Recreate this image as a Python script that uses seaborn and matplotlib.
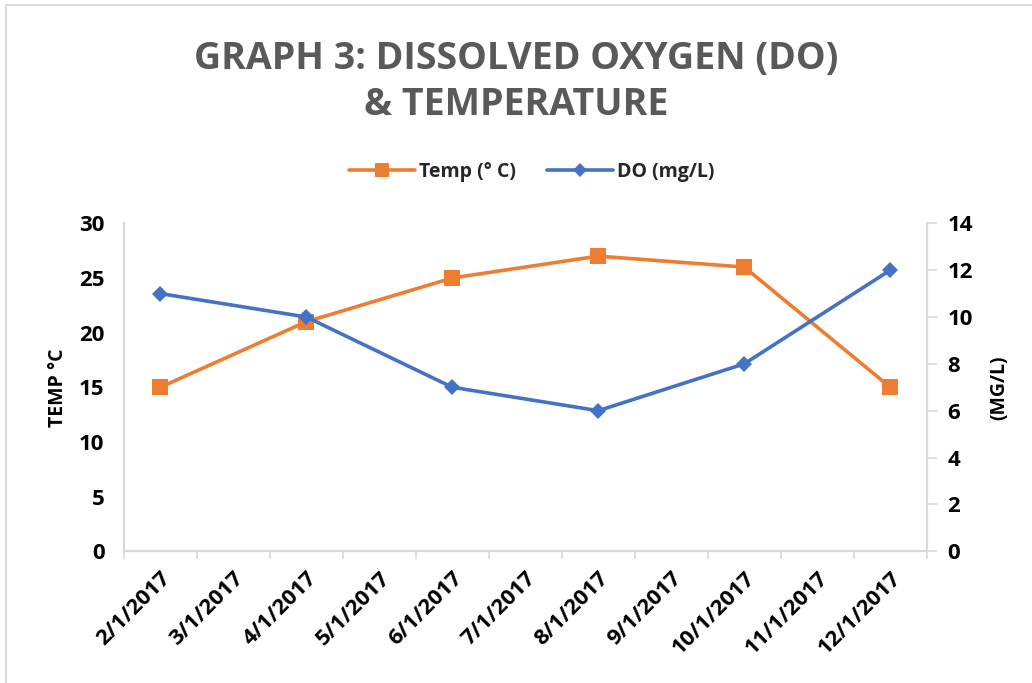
import matplotlib
matplotlib.use("Agg")
import matplotlib.pyplot as plt
from matplotlib.lines import Line2D
import pandas as pd
import seaborn as sns

# Dados
months = ["2/1/2017", "3/1/2017", "4/1/2017", "5/1/2017", "6/1/2017", "7/1/2017",
          "8/1/2017", "9/1/2017", "10/1/2017", "11/1/2017", "12/1/2017"]
sample_dates = ["2/1/2017", "4/1/2017", "6/1/2017", "8/1/2017", "10/1/2017", "12/1/2017"]
temp_c = [15, 21, 25, 27, 26, 15]
do_mg_l = [11, 10, 7, 6, 8, 12]

ORANGE = "#ED7D31"
BLUE = "#4472C4"
GRID = "#D9D9D9"

sns.set_theme(style="white")
plt.rcParams["font.family"] = ["Open Sans", "DejaVu Sans"]
plt.rcParams["font.weight"] = "bold"

df = pd.DataFrame({"date": sample_dates, "temp": temp_c, "do": do_mg_l})
df["pos"] = df["date"].map({m: i for i, m in enumerate(months)})

fig = plt.figure(figsize=(10.32, 6.83), dpi=100)
ax = fig.add_axes([0.120, 0.193, 0.778, 0.480])
ax2 = ax.twinx()

sns.lineplot(data=df, x="pos", y="temp", ax=ax, color=ORANGE, linewidth=2.6,
             marker="s", markersize=12, markeredgewidth=0, label="Temp (° C)", legend=False)
sns.lineplot(data=df, x="pos", y="do", ax=ax2, color=BLUE, linewidth=2.6,
             marker="D", markersize=8, markeredgewidth=0, label="DO (mg/L)", legend=False)

# Eixo de categorias: marcas entre categorias, rótulos no centro
ax.set_xlim(-0.5, len(months) - 0.5)
ax.set_xticks([i - 0.5 for i in range(len(months) + 1)], labels=[""] * (len(months) + 1))
ax.set_xticks(range(len(months)), labels=months, minor=True, rotation=45, ha="right",
              rotation_mode="anchor", fontsize=16, fontweight="bold", color="black")
ax.tick_params(axis="x", which="major", length=6, width=1.2, color=GRID, direction="out", bottom=True)
ax.tick_params(axis="x", which="minor", length=0, pad=12)

ax.set_ylim(0, 30)
ax.set_yticks(range(0, 31, 5), labels=[str(v) for v in range(0, 31, 5)],
              fontsize=16, fontweight="bold", color="black")
ax.tick_params(axis="y", length=0, pad=14)
ax2.set_ylim(0, 14)
ax2.set_yticks(range(0, 15, 2), labels=[str(v) for v in range(0, 15, 2)],
               fontsize=16, fontweight="bold", color="black")
ax2.tick_params(axis="y", length=7, width=1.2, color=GRID, direction="out", pad=8, right=True)
for a in (ax, ax2):
    a.spines["top"].set_visible(False)
    for side in ("left", "right", "bottom"):
        a.spines[side].set_color(GRID)
        a.spines[side].set_linewidth(1.5)

ax.set_xlabel("")
ax.set_ylabel("TEMP °C", fontsize=14, fontweight="bold", color="black", labelpad=8)
ax2.set_ylabel("(MG/L)", fontsize=14, fontweight="bold", color="black", rotation=90, labelpad=12)

fig.suptitle("GRAPH 3: DISSOLVED OXYGEN (DO)\n& TEMPERATURE", y=0.942, fontsize=27,
             fontweight="bold", color="#595959", linespacing=1.3)

handles = [Line2D([], [], color=ORANGE, linewidth=2.6, marker="s", markersize=10, markeredgewidth=0),
           Line2D([], [], color=BLUE, linewidth=2.6, marker="D", markersize=7, markeredgewidth=0)]
fig.legend(handles, ["Temp (° C)", "DO (mg/L)"], loc="center", bbox_to_anchor=(0.515, 0.748),
           ncol=2, frameon=False, handlelength=3.4, columnspacing=1.6, handletextpad=0.2,
           prop={"size": 14, "weight": "bold"})

# Borda do gráfico estilo Excel
fig.add_artist(Line2D([0.006, 1.0], [0.993, 0.993], transform=fig.transFigure, color=GRID, linewidth=1.5))
fig.add_artist(Line2D([0.006, 0.006], [0.0, 0.993], transform=fig.transFigure, color=GRID, linewidth=1.5))

fig.savefig("out.png", dpi=100)
